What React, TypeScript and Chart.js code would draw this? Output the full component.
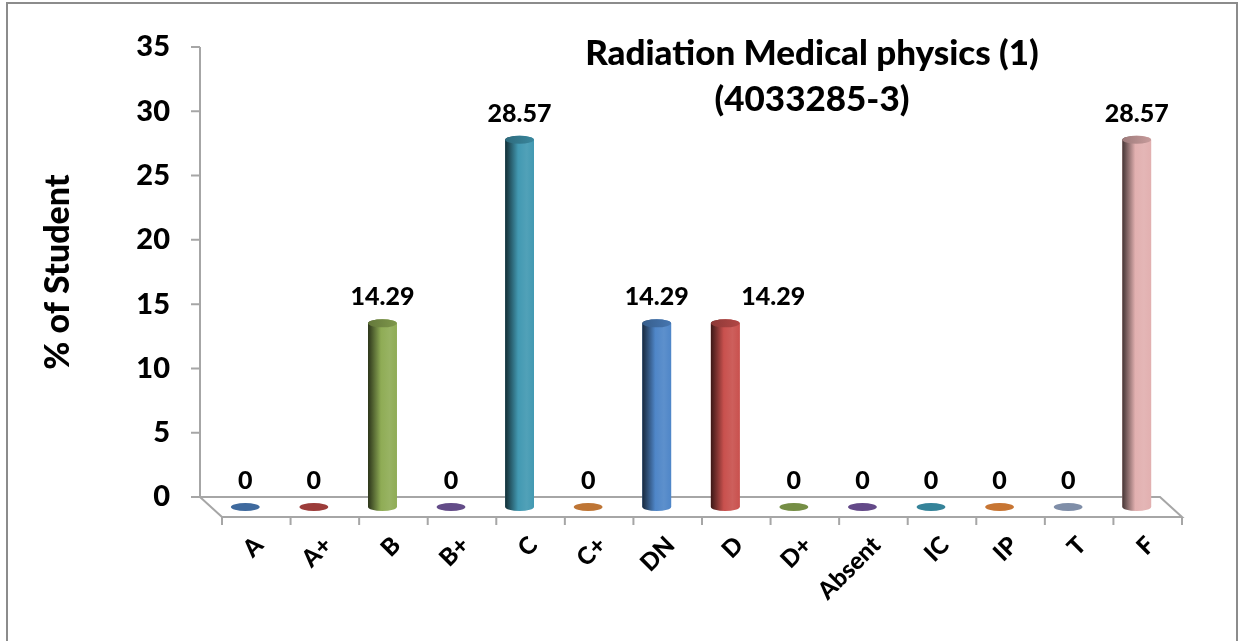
import React, { useEffect, useRef } from 'react';
import { Chart, registerables } from 'chart.js';

Chart.register(...registerables);

const W = 1239;
const H = 641;
const FONT = 'Lato, "Open Sans", "DejaVu Sans", sans-serif';
const WEIGHT = '900';

const chartTitleLines = ['Radiation Medical physics (1)', '(4033285-3)'];
const yAxisTitle = '% of Student';
const categories = ['A', 'A+', 'B', 'B+', 'C', 'C+', 'DN', 'D', 'D+', 'Absent', 'IC', 'IP', 'T', 'F'];
const percentValues = [0, 0, 14.29, 0, 28.57, 0, 14.29, 14.29, 0, 0, 0, 0, 0, 28.57];
const barColors = [
  '#4a7dba', '#b84744', '#8fac55', '#7559a0', '#4299b2', '#e08a3e', '#4f86c8',
  '#c9514e', '#8aa751', '#7456a0', '#3e9ab4', '#ea8a3c', '#95a7c6', '#e2b0b0',
];
const yMin = 0;
const yMax = 35;
const yStep = 5;

// 3D look: depth offset of the floor (px)
const DEPTH_X = 11;
const DEPTH_Y = 10;

function shade(hex: string, f: number): string {
  const n = parseInt(hex.slice(1), 16);
  let r = (n >> 16) & 255, g = (n >> 8) & 255, b = n & 255;
  if (f <= 1) {
    r *= f; g *= f; b *= f;
  } else {
    const t = f - 1;
    r = r + (255 - r) * t; g = g + (255 - g) * t; b = b + (255 - b) * t;
  }
  return `rgb(${Math.round(r)},${Math.round(g)},${Math.round(b)})`;
}

const frame3d = {
  id: 'frame3d',
  beforeDraw(chart: any) {
    const { ctx, chartArea } = chart;
    ctx.save();
    ctx.fillStyle = '#ffffff';
    ctx.fillRect(0, 0, chart.width, chart.height);
    // outer border
    ctx.strokeStyle = '#8c8c8c';
    ctx.lineWidth = 2;
    ctx.strokeRect(7, 3, 1230, 700);

    const yScale = chart.scales.y;
    const xScale = chart.scales.x;
    const backL = chartArea.left - DEPTH_X;
    const backR = chartArea.right - DEPTH_X;
    const backY = yScale.getPixelForValue(yMin);
    const frontY = backY + 2 * DEPTH_Y;
    const frontL = backL + 2 * DEPTH_X;
    const frontR = backR + 2 * DEPTH_X;

    ctx.strokeStyle = '#a6a6a6';
    ctx.lineWidth = 2;
    // y axis line + ticks
    ctx.beginPath();
    ctx.moveTo(backL, yScale.getPixelForValue(yMax));
    ctx.lineTo(backL, backY);
    yScale.ticks.forEach((t: any) => {
      const py = yScale.getPixelForValue(t.value);
      ctx.moveTo(backL - 9, py);
      ctx.lineTo(backL, py);
    });
    ctx.stroke();
    // floor
    ctx.beginPath();
    ctx.moveTo(backL, backY);
    ctx.lineTo(backR, backY);
    ctx.lineTo(frontR, frontY);
    ctx.lineTo(frontL, frontY);
    ctx.closePath();
    ctx.stroke();
    // category boundary ticks at the front edge
    ctx.beginPath();
    const n = categories.length;
    const step = (xScale.right - xScale.left) / n;
    for (let i = 0; i <= n; i++) {
      const px = frontL + i * step;
      ctx.moveTo(px, frontY);
      ctx.lineTo(px, frontY + 8);
    }
    ctx.stroke();
    ctx.restore();
  },
  afterDatasetsDraw(chart: any, _args: any, opts: any) {
    const { ctx } = chart;
    const meta = chart.getDatasetMeta(0);
    const ds = chart.data.datasets[0];
    const shifts = (opts && opts.labelShiftX) || {};
    ctx.save();
    meta.data.forEach((el: any, i: number) => {
      const color = (ds.backgroundColor as string[])[i];
      const x = el.x;
      const top = el.y;
      const base = el.base;
      const rx = el.width / 2;
      const ry = 4;
      if (Math.abs(base - top) < 0.5) {
        ctx.fillStyle = shade(color, 0.85);
        ctx.beginPath();
        ctx.ellipse(x, base, rx, ry, 0, 0, Math.PI * 2);
        ctx.fill();
      } else {
        const g = ctx.createLinearGradient(x - rx, 0, x + rx, 0);
        g.addColorStop(0, shade(color, 0.3));
        g.addColorStop(0.45, color);
        g.addColorStop(0.75, shade(color, 1.08));
        g.addColorStop(1, color);
        ctx.fillStyle = g;
        ctx.beginPath();
        ctx.moveTo(x - rx, top);
        ctx.lineTo(x - rx, base);
        ctx.ellipse(x, base, rx, ry, 0, Math.PI, 0, true);
        ctx.lineTo(x + rx, top);
        ctx.ellipse(x, top, rx, ry, 0, 0, Math.PI, true);
        ctx.closePath();
        ctx.fill();
        const gc = ctx.createLinearGradient(x - rx, 0, x + rx, 0);
        gc.addColorStop(0, shade(color, 0.7));
        gc.addColorStop(1, shade(color, 0.88));
        ctx.fillStyle = gc;
        ctx.beginPath();
        ctx.ellipse(x, top, rx, ry, 0, 0, Math.PI * 2);
        ctx.fill();
      }
      // data label
      ctx.fillStyle = '#000000';
      ctx.font = `${WEIGHT} 25px ${FONT}`;
      ctx.textAlign = 'center';
      ctx.textBaseline = 'middle';
      ctx.fillText(String(percentValues[i]), x + (shifts[i] || 0), top - 26);
    });
    ctx.restore();
  },
  afterDraw(chart: any) {
    const { ctx } = chart;
    ctx.save();
    ctx.fillStyle = '#000000';
    ctx.font = `${WEIGHT} 35px ${FONT}`;
    ctx.textAlign = 'center';
    ctx.textBaseline = 'middle';
    ctx.fillText(chartTitleLines[0], 812, 54);
    ctx.fillText(chartTitleLines[1], 812, 100);
    ctx.restore();
  },
};

export default function App() {
  const ref = useRef<HTMLCanvasElement | null>(null);

  useEffect(() => {
    if (!ref.current) return;
    const pxPerUnit = 448 / (yMax - yMin);
    const depthUnits = DEPTH_Y / pxPerUnit;
    const chart = new Chart(ref.current, {
      type: 'bar',
      data: {
        labels: categories,
        datasets: [
          {
            label: yAxisTitle,
            data: percentValues,
            backgroundColor: barColors,
            borderWidth: 0,
            barPercentage: 0.42,
            categoryPercentage: 1,
            yAxisID: 'y2',
            clip: false,
          } as any,
        ],
      },
      options: {
        responsive: false,
        animation: false,
        events: [],
        layout: { padding: { top: 47, right: 68, bottom: 0, left: 0 } },
        plugins: {
          legend: { display: false },
          tooltip: { enabled: false },
          title: { display: false },
          frame3d: { labelShiftX: { 7: 48 } },
        } as any,
        scales: {
          x: {
            type: 'category',
            grid: { display: false },
            border: { display: false },
            ticks: {
              autoSkip: false,
              minRotation: 45,
              maxRotation: 45,
              labelOffset: 14,
              padding: 26,
              color: '#000000',
              font: { family: FONT, size: 24, weight: WEIGHT },
            },
            afterFit: (s: any) => {
              s.height = 144;
              s.paddingLeft = 0;
              s.paddingRight = 0;
            },
          },
          y: {
            type: 'linear',
            position: 'left',
            min: yMin,
            max: yMax,
            grid: { display: false },
            border: { display: false },
            ticks: {
              stepSize: yStep,
              padding: 33,
              color: '#000000',
              font: { family: FONT, size: 29, weight: WEIGHT },
            },
            title: {
              display: true,
              text: yAxisTitle,
              color: '#000000',
              font: { family: FONT, size: 34, weight: WEIGHT },
              padding: { top: 38, bottom: 0 },
            },
            afterFit: (s: any) => {
              s.width = 211;
              s.paddingTop = 0;
              s.paddingBottom = 0;
            },
          },
          y2: {
            type: 'linear',
            display: false,
            min: yMin + depthUnits,
            max: yMax + depthUnits,
          },
        },
      } as any,
      plugins: [frame3d],
    });
    return () => chart.destroy();
  }, []);

  return (
    <div style={{ position: 'fixed', left: 0, top: 0, width: W, height: H, background: '#fff' }}>
      <canvas ref={ref} width={W} height={H} style={{ display: 'block' }} />
    </div>
  );
}
